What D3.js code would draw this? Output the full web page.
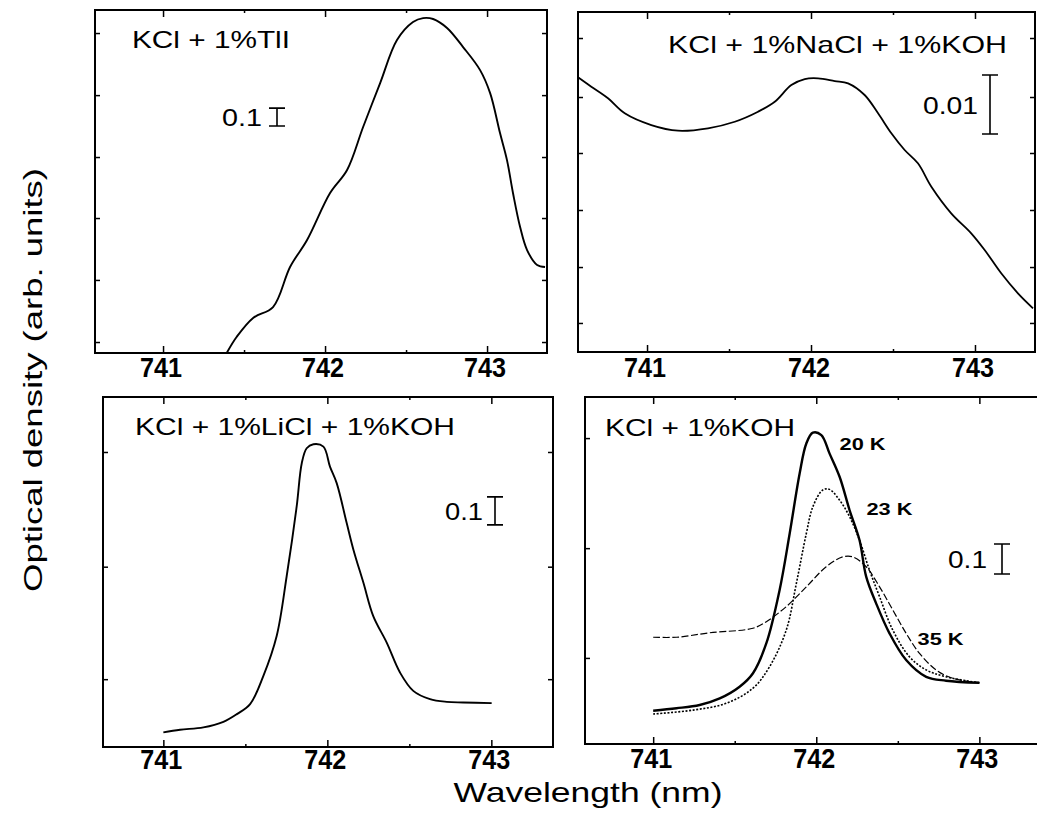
<!DOCTYPE html>
<html>
<head>
<meta charset="utf-8">
<script src="https://cdn.jsdelivr.net/npm/d3@7"></script>
<style>
  body { margin: 0; background: #fff; }
  svg { display: block; }
  text { font-family: "Liberation Sans", Arial, sans-serif; fill: #000; }
</style>
</head>
<body>
<svg id="chart" width="1037" height="819"></svg>
<script>
// ---- data (wavelength in nm, optical density in arb. units) ----
const majorTicks = [741, 742, 743];
const minorTicks = [741.5, 742.5];

// KCl + 1%TlI
const tliWave = [741.393, 741.455, 741.556, 741.679, 741.784, 741.889, 742.031, 742.136, 742.235, 742.340, 742.444, 742.543, 742.605, 742.667, 742.753, 742.852, 742.957, 743.019, 743.080, 743.123, 743.160, 743.204, 743.247, 743.309, 743.358];
const tliOD = [0.0, 0.09, 0.195, 0.255, 0.478, 0.628, 0.889, 1.017, 1.256, 1.5, 1.739, 1.839, 1.861, 1.856, 1.806, 1.7, 1.572, 1.444, 1.222, 1.072, 0.889, 0.7, 0.572, 0.489, 0.478];
const tliYTicks = [0.061, 0.406, 0.75, 1.089, 1.433, 1.778];

// KCl + 1%NaCl + 1%KOH
const naclWave = [740.579, 740.660, 740.762, 740.864, 741.026, 741.189, 741.372, 741.535, 741.677, 741.779, 741.880, 741.962, 742.043, 742.145, 742.226, 742.327, 742.409, 742.490, 742.571, 742.652, 742.734, 742.855, 742.977, 743.059, 743.160, 743.262, 743.354];
const naclOD = [0.04656, 0.04497, 0.04300, 0.04046, 0.03847, 0.03751, 0.03792, 0.03903, 0.04073, 0.04242, 0.04525, 0.04627, 0.04639, 0.04593, 0.04554, 0.04356, 0.04046, 0.03707, 0.03424, 0.03198, 0.02802, 0.02351, 0.02012, 0.01729, 0.01334, 0.00995, 0.00741];
const naclYTicks = [0.00492, 0.0144, 0.02407, 0.03373, 0.04322, 0.05322];

// KCl + 1%LiCl + 1%KOH
const liclWave = [741.000, 741.102, 741.244, 741.366, 741.448, 741.529, 741.610, 741.691, 741.752, 741.813, 741.844, 741.874, 741.915, 741.976, 742.016, 742.057, 742.118, 742.159, 742.220, 742.280, 742.362, 742.443, 742.524, 742.626, 742.728, 742.829, 743.002];
const liclOD = [0.0525, 0.0618, 0.0704, 0.0904, 0.1179, 0.1536, 0.2546, 0.3975, 0.6118, 0.8618, 1.0168, 1.0704, 1.0846, 1.0761, 1.0046, 0.9454, 0.8025, 0.7071, 0.5882, 0.4689, 0.3739, 0.2668, 0.2011, 0.1714, 0.1618, 0.1596, 0.1571];
const liclYTicks = [0.243, 0.646, 1.057];

// KCl + 1%KOH at three temperatures
const koh20Wave = [741.000, 741.143, 741.285, 741.408, 741.530, 741.612, 741.694, 741.775, 741.837, 741.898, 741.939, 741.979, 742.031, 742.081, 742.143, 742.204, 742.265, 742.306, 742.367, 742.449, 742.551, 742.674, 742.796, 743.000];
const koh20OD = [0.092, 0.100, 0.111, 0.133, 0.172, 0.217, 0.317, 0.494, 0.683, 0.883, 0.983, 1.019, 1.011, 0.950, 0.872, 0.761, 0.661, 0.539, 0.450, 0.350, 0.261, 0.205, 0.192, 0.185];
const koh23Wave = [741.000, 741.245, 741.449, 741.612, 741.714, 741.816, 741.878, 741.939, 741.979, 742.040, 742.081, 742.143, 742.204, 742.265, 742.326, 742.388, 742.469, 742.571, 742.674, 742.796, 743.000];
const koh23OD = [0.081, 0.094, 0.117, 0.167, 0.239, 0.361, 0.517, 0.683, 0.772, 0.828, 0.830, 0.794, 0.739, 0.661, 0.561, 0.472, 0.361, 0.272, 0.228, 0.205, 0.185];
const koh35Wave = [741.000, 741.143, 741.347, 741.612, 741.694, 741.816, 741.939, 742.061, 742.163, 742.224, 742.306, 742.388, 742.469, 742.551, 742.633, 742.735, 742.837, 743.000];
const koh35OD = [0.337, 0.337, 0.352, 0.367, 0.389, 0.439, 0.505, 0.572, 0.605, 0.605, 0.572, 0.505, 0.428, 0.350, 0.283, 0.228, 0.200, 0.185];
const kohYTicks = [0.268, 0.634, 1.001];
const tempLabels = ["20 K", "23 K", "35 K"];
const tempLabelWave = [742.143, 742.308, 742.621];
const tempLabelOD = [0.961, 0.744, 0.311];

const titles = ["KCl + 1%TlI", "KCl + 1%NaCl + 1%KOH", "KCl + 1%LiCl + 1%KOH", "KCl + 1%KOH"];
const barSizes = [0.1, 0.01, 0.1, 0.1];
const barTops = [1.361, 0.04695, 0.896, 0.648];

// ---- layout ----
const panels = [
  { left: 95, top: 10, right: 547, bottom: 353, labelY: 377, xDomain: [740.580, 743.370], yDomain: [0, 1.906],
    title: { x: 132, y: 48, len: 158 }, bar: { x: 277, labelX: 262, len: 40 } },
  { left: 578, top: 12, right: 1035, bottom: 352, labelY: 377, xDomain: [740.579, 743.366], yDomain: [0, 0.05763],
    title: { x: 668, y: 53, len: 339 }, bar: { x: 990, labelX: 978, len: 55 } },
  { left: 103, top: 397, right: 553, bottom: 747, labelY: 769, xDomain: [740.632, 743.376], yDomain: [0, 1.254],
    title: { x: 135, y: 435, len: 320 }, bar: { x: 495, labelX: 483, len: 38 } },
  { left: 585, top: 397, right: 1042, bottom: 744, labelY: 768, xDomain: [740.582, 743.384], yDomain: [-0.019, 1.138],
    title: { x: 605, y: 436, len: 190 }, bar: { x: 1002, labelX: 987, len: 39 } }
];

const series = [
  [{ wave: tliWave, od: tliOD, width: 1.9, dash: null }],
  [{ wave: naclWave, od: naclOD, width: 1.8, dash: null }],
  [{ wave: liclWave, od: liclOD, width: 1.9, dash: null }],
  [
    { wave: koh35Wave, od: koh35OD, width: 1.2, dash: "7,2.5" },
    { wave: koh23Wave, od: koh23OD, width: 1.6, dash: "2,1.6" },
    { wave: koh20Wave, od: koh20OD, width: 2.4, dash: null }
  ]
];
const yTicks = [tliYTicks, naclYTicks, liclYTicks, kohYTicks];

const svg = d3.select("#chart");

panels.forEach((p, i) => {
  const x = d3.scaleLinear().domain(p.xDomain).range([p.left, p.right]);
  const y = d3.scaleLinear().domain(p.yDomain).range([p.bottom, p.top]);
  const g = svg.append("g");

  // curves
  series[i].forEach((s) => {
    const pts = s.wave.map((w, k) => [w, s.od[k]]);
    const line = d3.line().x((d) => x(d[0])).y((d) => y(d[1])).curve(d3.curveCatmullRom.alpha(0.5));
    g.append("path")
      .attr("d", line(pts))
      .attr("fill", "none")
      .attr("stroke", "#000")
      .attr("stroke-width", s.width)
      .attr("stroke-linejoin", "round")
      .attr("stroke-dasharray", s.dash);
  });

  // frame
  g.append("rect")
    .attr("x", p.left).attr("y", p.top)
    .attr("width", p.right - p.left).attr("height", p.bottom - p.top)
    .attr("fill", "none").attr("stroke", "#000").attr("stroke-width", 2);

  // x ticks (bottom and top, pointing inward)
  const xAxisB = d3.axisBottom(x).tickValues(majorTicks).tickSize(-7).tickFormat("");
  const xAxisT = d3.axisTop(x).tickValues(majorTicks).tickSize(-7).tickFormat("");
  const xMinB = d3.axisBottom(x).tickValues(minorTicks).tickSize(-3).tickFormat("");
  const xMinT = d3.axisTop(x).tickValues(minorTicks).tickSize(-3).tickFormat("");
  [[xAxisB, p.bottom], [xMinB, p.bottom], [xAxisT, p.top], [xMinT, p.top]].forEach(([ax, pos]) => {
    const a = g.append("g").attr("transform", `translate(0,${pos})`).call(ax);
    a.select(".domain").remove();
    a.selectAll("line").attr("stroke", "#000").attr("stroke-width", 1.5);
  });

  // y ticks (left and right, pointing inward)
  const yL = d3.axisLeft(y).tickValues(yTicks[i]).tickSize(-5).tickFormat("");
  const yR = d3.axisRight(y).tickValues(yTicks[i]).tickSize(-5).tickFormat("");
  [[yL, p.left], [yR, p.right]].forEach(([ax, pos]) => {
    const a = g.append("g").attr("transform", `translate(${pos},0)`).call(ax);
    a.select(".domain").remove();
    a.selectAll("line").attr("stroke", "#000").attr("stroke-width", 1.5);
  });

  // tick labels
  majorTicks.forEach((t) => {
    g.append("text")
      .attr("x", x(t) - 2).attr("y", p.labelY)
      .attr("text-anchor", "middle")
      .attr("font-size", 27).attr("font-weight", "bold")
      .attr("textLength", 42).attr("lengthAdjust", "spacingAndGlyphs")
      .text(t);
  });

  // panel title
  g.append("text")
    .attr("x", p.title.x).attr("y", p.title.y)
    .attr("font-size", 24)
    .attr("textLength", p.title.len).attr("lengthAdjust", "spacingAndGlyphs")
    .text(titles[i]);

  // scale bar
  const yb0 = y(barTops[i]);
  const yb1 = y(barTops[i] - barSizes[i]);
  const bx = p.bar.x;
  g.append("path")
    .attr("d", `M${bx - 8},${yb0}H${bx + 8}M${bx},${yb0}V${yb1}M${bx - 8},${yb1}H${bx + 8}`)
    .attr("fill", "none").attr("stroke", "#000").attr("stroke-width", 1.6);
  g.append("text")
    .attr("x", p.bar.labelX).attr("y", (yb0 + yb1) / 2 + 9)
    .attr("text-anchor", "end")
    .attr("font-size", 24)
    .attr("textLength", p.bar.len).attr("lengthAdjust", "spacingAndGlyphs")
    .text(barSizes[i]);

  // temperature labels
  if (i === 3) {
    tempLabels.forEach((lab, k) => {
      g.append("text")
        .attr("x", x(tempLabelWave[k])).attr("y", y(tempLabelOD[k]))
        .attr("font-size", 17).attr("font-weight", "bold")
        .attr("textLength", 46).attr("lengthAdjust", "spacingAndGlyphs")
        .text(lab);
    });
  }
});

// axis titles
svg.append("text")
  .attr("x", 588).attr("y", 802)
  .attr("text-anchor", "middle")
  .attr("font-size", 28)
  .attr("textLength", 269).attr("lengthAdjust", "spacingAndGlyphs")
  .text("Wavelength (nm)");

svg.append("text")
  .attr("transform", "translate(42,380) rotate(-90)")
  .attr("text-anchor", "middle")
  .attr("font-size", 25)
  .attr("textLength", 424).attr("lengthAdjust", "spacingAndGlyphs")
  .text("Optical density (arb. units)");
</script>
</body>
</html>
